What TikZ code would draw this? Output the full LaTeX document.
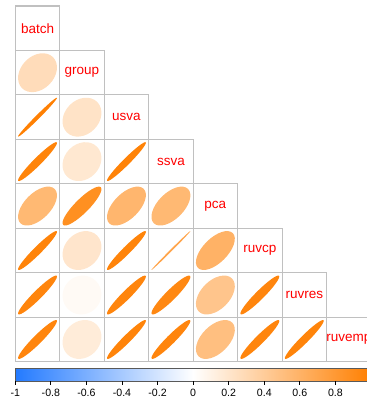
\documentclass[tikz,border=0pt]{standalone}
\usepackage{fontspec}
\setmainfont{Liberation Sans}
\usepackage{tikz}
\usetikzlibrary{calc}
\definecolor{corrorange}{RGB}{255,127,0}
\definecolor{corrblue}{RGB}{35,122,255}
\definecolor{gridgray}{RGB}{192,192,192}
\definecolor{labelred}{RGB}{255,0,0}
\def\correll(#1,#2)(#3){%
	\pgfmathsetmacro\ellmaj{0.4375*sqrt(1+#3)}%
	\pgfmathsetmacro\ellmin{0.4375*sqrt(1-#3)}%
	\pgfmathtruncatemacro\ellpct{round(100*#3)}%
	\fill[corrorange!\ellpct, rotate around={45:(#1+0.5,-#2-0.5)}] (#1+0.5,-#2-0.5) ellipse ({\ellmaj} and {\ellmin});}

\begin{document}
\begin{tikzpicture}[x=44.46pt, y=44.46pt]
			%%%%% FRAME %%%%%
			\useasboundingbox (-0.344, 0.135) rectangle (7.910, -8.974);
			\clip (-0.344, 0.135) rectangle (7.910, -8.974);
			
			%%%%% GRID %%%%%
			\draw[line width=1.1pt, color=gridgray] (0, 0) -- (1, 0);
			\draw[line width=1.1pt, color=gridgray] (0, -1) -- (2, -1);
			\draw[line width=1.1pt, color=gridgray] (0, -2) -- (3, -2);
			\draw[line width=1.1pt, color=gridgray] (0, -3) -- (4, -3);
			\draw[line width=1.1pt, color=gridgray] (0, -4) -- (5, -4);
			\draw[line width=1.1pt, color=gridgray] (0, -5) -- (6, -5);
			\draw[line width=1.1pt, color=gridgray] (0, -6) -- (7, -6);
			\draw[line width=1.1pt, color=gridgray] (0, -7) -- (8, -7);
			\draw[line width=1.1pt, color=gridgray] (0, -8) -- (8, -8);
			\draw[line width=1.1pt, color=gridgray] (0, 0) -- (0, -8);
			\draw[line width=1.1pt, color=gridgray] (1, 0) -- (1, -8);
			\draw[line width=1.1pt, color=gridgray] (2, -1) -- (2, -8);
			\draw[line width=1.1pt, color=gridgray] (3, -2) -- (3, -8);
			\draw[line width=1.1pt, color=gridgray] (4, -3) -- (4, -8);
			\draw[line width=1.1pt, color=gridgray] (5, -4) -- (5, -8);
			\draw[line width=1.1pt, color=gridgray] (6, -5) -- (6, -8);
			\draw[line width=1.1pt, color=gridgray] (7, -6) -- (7, -8);
			\draw[line width=1.1pt, color=gridgray] (8, -7) -- (8, -8);
			
			%%%%% NAMES %%%%%
			\node[text=labelred, font=\fontsize{13.5}{16}\selectfont] (batch) at (0.5, -0.5) {batch};
			\node[text=labelred, font=\fontsize{13.5}{16}\selectfont] (group) at (1.5, -1.5) {group};
			\node[text=labelred, font=\fontsize{13.5}{16}\selectfont] (usva) at (2.5, -2.5) {usva};
			\node[text=labelred, font=\fontsize{13.5}{16}\selectfont] (ssva) at (3.5, -3.5) {ssva};
			\node[text=labelred, font=\fontsize{13.5}{16}\selectfont] (pca) at (4.5, -4.5) {pca};
			\node[text=labelred, font=\fontsize{13.5}{16}\selectfont] (ruvcp) at (5.5, -5.5) {ruvcp};
			\node[text=labelred, font=\fontsize{13.5}{16}\selectfont] (ruvres) at (6.5, -6.5) {ruvres};
			\node[text=labelred, font=\fontsize{13.5}{16}\selectfont] (ruvemp) at (7.5, -7.5) {ruvemp};
			
			%%%%% ELLIPSES %%%%%
			\correll(0,1)(0.27)
			
			\correll(0,2)(0.99)
			\correll(1,2)(0.22)
			
			\correll(0,3)(0.96)
			\correll(1,3)(0.18)
			\correll(2,3)(0.97)
			
			\correll(0,4)(0.55)
			\correll(1,4)(0.87)
			\correll(2,4)(0.57)
			\correll(3,4)(0.55)
			
			\correll(0,5)(0.96)
			\correll(1,5)(0.20)
			\correll(2,5)(0.96)
			\fill[corrorange!70, rotate around={45:(3.5,-5.5)}] (3.5,-5.5) ellipse (0.618 and 0.02);
			\correll(4,5)(0.60)
			
			\correll(0,6)(0.95)
			\correll(1,6)(0.04)
			\correll(2,6)(0.95)
			\correll(3,6)(0.93)
			\correll(4,6)(0.45)
			\correll(5,6)(0.95)
			
			\correll(0,7)(0.95)
			\correll(1,7)(0.15)
			\correll(2,7)(0.96)
			\correll(3,7)(0.95)
			\correll(4,7)(0.50)
			\correll(5,7)(0.95)
			\correll(6,7)(0.96)
			
			%%%%% COLOUR KEY %%%%%
			\shade[left color=corrblue, right color=corrorange, middle color=white] (0, -8.158) rectangle (8, -8.435);
			\draw[line width=0.8pt, color=black!65] (0, -8.158) rectangle (8, -8.435);
			
			\draw[line width=0.8pt] (0, -8.435) -- (0, -8.515);
			\draw[line width=0.8pt] (0.8, -8.435) -- (0.8, -8.515);
			\draw[line width=0.8pt] (1.6, -8.435) -- (1.6, -8.515);
			\draw[line width=0.8pt] (2.4, -8.435) -- (2.4, -8.515);
			\draw[line width=0.8pt] (3.2, -8.435) -- (3.2, -8.515);
			\draw[line width=0.8pt] (4, -8.435) -- (4, -8.515);
			\draw[line width=0.8pt] (4.8, -8.435) -- (4.8, -8.515);
			\draw[line width=0.8pt] (5.6, -8.435) -- (5.6, -8.515);
			\draw[line width=0.8pt] (6.4, -8.435) -- (6.4, -8.515);
			\draw[line width=0.8pt] (7.2, -8.435) -- (7.2, -8.515);
			
			\node[font=\fontsize{10.6}{12}\selectfont] (t0) at (0, -8.70) {-1};
			\node[font=\fontsize{10.6}{12}\selectfont] (t1) at (0.8, -8.70) {-0.8};
			\node[font=\fontsize{10.6}{12}\selectfont] (t2) at (1.6, -8.70) {-0.6};
			\node[font=\fontsize{10.6}{12}\selectfont] (t3) at (2.4, -8.70) {-0.4};
			\node[font=\fontsize{10.6}{12}\selectfont] (t4) at (3.2, -8.70) {-0.2};
			\node[font=\fontsize{10.6}{12}\selectfont] (t5) at (4, -8.70) {0};
			\node[font=\fontsize{10.6}{12}\selectfont] (t6) at (4.8, -8.70) {0.2};
			\node[font=\fontsize{10.6}{12}\selectfont] (t7) at (5.6, -8.70) {0.4};
			\node[font=\fontsize{10.6}{12}\selectfont] (t8) at (6.4, -8.70) {0.6};
			\node[font=\fontsize{10.6}{12}\selectfont] (t9) at (7.2, -8.70) {0.8};
			
		\end{tikzpicture}
\end{document}
